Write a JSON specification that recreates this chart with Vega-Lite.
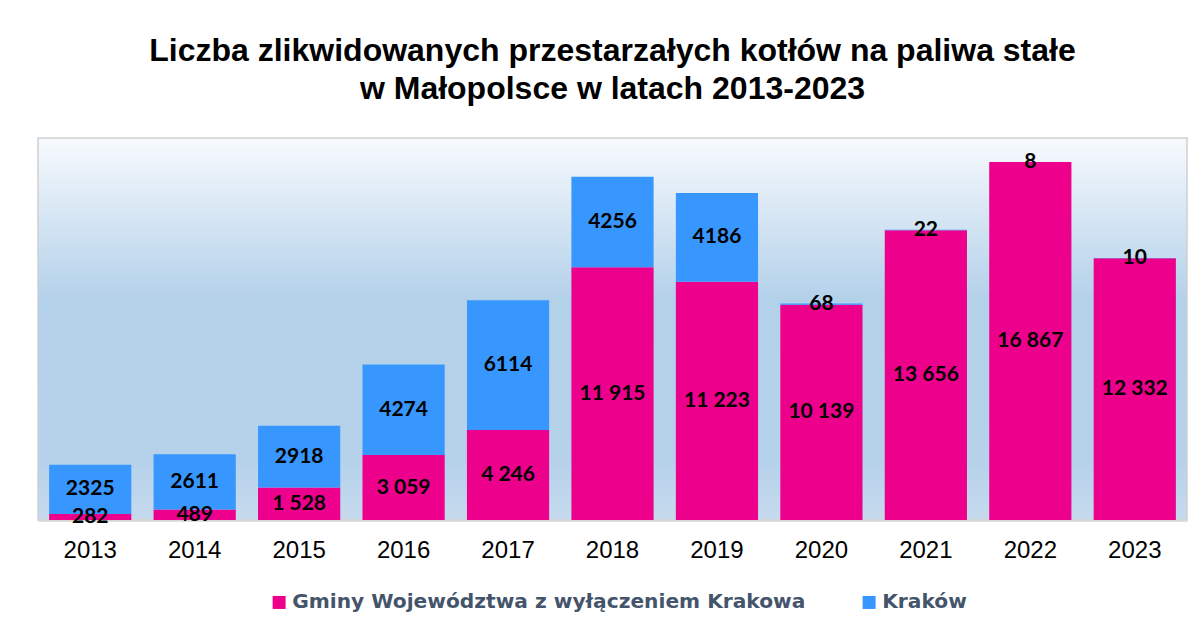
{
  "$schema": "https://vega.github.io/schema/vega-lite/v6.json",
  "autosize": "none",
  "width": 1149,
  "height": 382,
  "padding": {"left": 38, "top": 138, "right": 16, "bottom": 112},
  "background": "white",
  "config": {
    "locale": {"number": {"decimal": ",", "thousands": " ", "grouping": [3], "currency": ["", " zł"]}}
  },
  "view": {
    "stroke": "#cfcfcf",
    "strokeWidth": 1.5,
    "fill": {
      "gradient": "linear", "x1": 0, "y1": 0, "x2": 0, "y2": 1,
      "stops": [
        {"offset": 0, "color": "#f7fafd"},
        {"offset": 0.42, "color": "#b4d1ea"},
        {"offset": 0.85, "color": "#b6d2eb"},
        {"offset": 1, "color": "#c6daee"}
      ]
    }
  },
  "title": {
    "text": ["Liczba zlikwidowanych przestarzałych kotłów na paliwa stałe", "w Małopolsce w latach 2013-2023"],
    "font": "Liberation Sans",
    "fontSize": 32,
    "fontWeight": "bold",
    "color": "#000000",
    "lineHeight": 38,
    "offset": 32,
    "anchor": "middle"
  },
  "data": {
    "values": [
      {"rok": "2013", "seria": "Gminy Województwa z wyłączeniem Krakowa", "wartosc": 282},
      {"rok": "2013", "seria": "Kraków", "wartosc": 2325},
      {"rok": "2014", "seria": "Gminy Województwa z wyłączeniem Krakowa", "wartosc": 489},
      {"rok": "2014", "seria": "Kraków", "wartosc": 2611},
      {"rok": "2015", "seria": "Gminy Województwa z wyłączeniem Krakowa", "wartosc": 1528},
      {"rok": "2015", "seria": "Kraków", "wartosc": 2918},
      {"rok": "2016", "seria": "Gminy Województwa z wyłączeniem Krakowa", "wartosc": 3059},
      {"rok": "2016", "seria": "Kraków", "wartosc": 4274},
      {"rok": "2017", "seria": "Gminy Województwa z wyłączeniem Krakowa", "wartosc": 4246},
      {"rok": "2017", "seria": "Kraków", "wartosc": 6114},
      {"rok": "2018", "seria": "Gminy Województwa z wyłączeniem Krakowa", "wartosc": 11915},
      {"rok": "2018", "seria": "Kraków", "wartosc": 4256},
      {"rok": "2019", "seria": "Gminy Województwa z wyłączeniem Krakowa", "wartosc": 11223},
      {"rok": "2019", "seria": "Kraków", "wartosc": 4186},
      {"rok": "2020", "seria": "Gminy Województwa z wyłączeniem Krakowa", "wartosc": 10139},
      {"rok": "2020", "seria": "Kraków", "wartosc": 68},
      {"rok": "2021", "seria": "Gminy Województwa z wyłączeniem Krakowa", "wartosc": 13656},
      {"rok": "2021", "seria": "Kraków", "wartosc": 22},
      {"rok": "2022", "seria": "Gminy Województwa z wyłączeniem Krakowa", "wartosc": 16867},
      {"rok": "2022", "seria": "Kraków", "wartosc": 8},
      {"rok": "2023", "seria": "Gminy Województwa z wyłączeniem Krakowa", "wartosc": 12332},
      {"rok": "2023", "seria": "Kraków", "wartosc": 10}
    ]
  },
  "encoding": {
    "x": {
      "field": "rok",
      "type": "ordinal",
      "scale": {"paddingInner": 0.213, "paddingOuter": 0.1065},
      "axis": {
        "title": null,
        "labelAngle": 0,
        "labelFont": "Liberation Sans",
        "labelFontSize": 24,
        "labelColor": "#000000",
        "ticks": false,
        "labelPadding": 18,
        "domainColor": "#d6d6d6",
        "domainWidth": 2.5,
        "grid": false
      }
    }
  },
  "layer": [
    {
      "mark": {"type": "bar"},
      "encoding": {
        "y": {"field": "wartosc", "type": "quantitative", "stack": "zero", "scale": {"domain": [0, 18000]}, "axis": null},
        "color": {
          "field": "seria",
          "type": "nominal",
          "scale": {"domain": ["Gminy Województwa z wyłączeniem Krakowa", "Kraków"], "range": ["#ec008c", "#3797ff"]},
          "legend": {
            "title": null,
            "orient": "none",
            "legendX": 231,
            "legendY": 454,
            "direction": "horizontal",
            "padding": 0,
            "symbolType": "square",
            "symbolSize": 169,
            "symbolStrokeWidth": 0,
            "symbolOpacity": 1,
            "labelFont": "DejaVu Sans",
            "labelFontSize": 20.2,
            "labelFontWeight": "bold",
            "labelColor": "#44546a",
            "labelOffset": 3,
            "labelLimit": 0,
            "columnPadding": 53
          }
        },
        "order": {"field": "seria", "sort": "ascending"}
      }
    },
    {
      "transform": [
        {"stack": "wartosc", "groupby": ["rok"], "sort": [{"field": "seria", "order": "ascending"}], "as": ["y0", "y1"]},
        {"calculate": "(datum.y0 + datum.y1) / 2", "as": "ymid"}
      ],
      "mark": {"type": "text", "font": "Lato", "fontWeight": "bold", "fontSize": 21, "color": "#000000", "baseline": "middle"},
      "encoding": {
        "y": {"field": "ymid", "type": "quantitative"},
        "text": {
          "condition": {"test": "datum.seria === 'Kraków'", "field": "wartosc", "type": "quantitative", "format": "d"},
          "field": "wartosc",
          "type": "quantitative",
          "format": ",d"
        }
      }
    }
  ]
}
